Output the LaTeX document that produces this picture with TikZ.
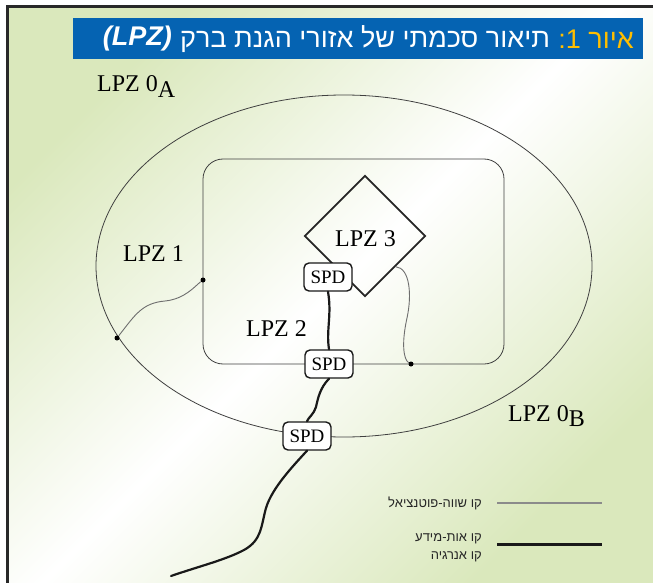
\documentclass[tikz,border=0pt]{standalone}
\usepackage{fontspec}
\setmainfont{Liberation Serif}
\newfontfamily\hebfont[Script=Hebrew]{Liberation Sans}
\usetikzlibrary{shapes.geometric, positioning, calc}
\TeXXeTstate=1
\definecolor{titleblue}{RGB}{5, 99, 178}
\definecolor{titleyellow}{RGB}{255, 190, 0}
\definecolor{bggreen}{RGB}{218, 232, 188}
\definecolor{eqgray}{RGB}{110, 110, 110}
\definecolor{framegray}{RGB}{40, 40, 40}
\newcommand{\zsub}[1]{\raisebox{-0.5ex}{#1}}

\begin{document}
\begin{tikzpicture}[x=1pt, y=-1pt,
    every node/.style={inner sep=0pt},
    zonelbl/.style={font=\fontsize{24}{26}\selectfont, anchor=base west},
    spd/.style={draw=black!90, fill=white, rounded corners=5pt, line width=1.4pt, minimum width=48pt, minimum height=28pt, font=\fontsize{19}{20}\selectfont},
    zone/.style={draw=black!75, line width=0.8pt},
    eqline/.style={draw=eqgray, line width=0.9pt},
    powline/.style={draw=black!90, line width=2.2pt, line cap=round},
    junc/.style={circle, fill=black, minimum size=5pt},
    ttl/.style={font=\hebfont\fontsize{27}{29}\selectfont},
    legend/.style={font=\hebfont\fontsize{13}{18}\selectfont, align=right, text=black!85}
]
\useasboundingbox (0,0) rectangle (653,583);

% Background and frame
\shade[top color=bggreen, bottom color=bggreen, middle color=white, shading angle=45] (7,7) rectangle (653,583);
\draw[framegray, line width=3pt] (7,583) -- (7,7) -- (653,7);

% Title bar
\node[fill=titleblue, minimum width=570pt, minimum height=41pt, anchor=north west] (bar) at (73,18) {};
\node[ttl, text=titleyellow, anchor=east] (fig) at (634,39) {\beginR איור \beginL1\endL:\endR};
\node[ttl, text=white, left=8pt of fig] (caption) {\beginR תיאור סכמתי של אזורי הגנת ברק\endR};
\node[ttl, text=white, left=8pt of caption, font=\hebfont\fontsize{27}{29}\selectfont\bfseries\itshape] (lpzttl) {(LPZ)};

% Zones
\node[zone, ellipse, minimum width=496pt, minimum height=342pt] (lpz0) at (344,266) {};
\node[zone, rounded corners=20pt, minimum width=301pt, minimum height=205pt] (lpz1) at (353.5,261.5) {};
\node[draw=black!85, line width=1.8pt, diamond, minimum width=121pt, minimum height=121pt] (lpz3) at (365,236) {};

% Zone labels
\node[zonelbl] (l0a) at (97,92) {LPZ 0\zsub{A}};
\node[zonelbl] (l1) at (123,261) {LPZ 1};
\node[zonelbl] (l2) at (246,336) {LPZ 2};
\node[zonelbl] (l3) at (335,246) {LPZ 3};
\node[zonelbl] (l0b) at (508,421) {LPZ 0\zsub{B}};

% Equipotential bonding
\node[junc] (j1) at (117,338) {};
\node[junc] (j2) at (203,280) {};
\node[junc] (j3) at (411,364) {};
\draw[eqline] (j1) .. controls (135,315) and (142,303) .. (165,301) .. controls (185,299) and (195,286) .. (j2);
\draw[eqline] (lpz3.south east) .. controls (410,268) and (412,295) .. (407,318) .. controls (401,345) and (404,360) .. (j3);

% SPDs on the line
\node[spd] (s1) at (328,277) {SPD};
\node[spd] (s2) at (329,364) {SPD};
\node[spd] (s3) at (307,436) {SPD};
\coordinate (pend) at (171,576);
\draw[powline] (s1.south) .. controls (332,315) and (326,330) .. (s2.north);
\draw[powline] (s2.south) .. controls (320,388) and (318,398) .. (316,407) .. controls (314,414) and (308,418) .. (s3.north);
\draw[powline] (s3.south) .. controls (293,466) and (272,488) .. (266,508) .. controls (261,526) and (262,540) .. (244,550) .. controls (225,560) and (200,566) .. (pend);

% Legend
\coordinate (eqa) at (497,503);
\coordinate (eqb) at (602,503);
\coordinate (pwa) at (497,544);
\coordinate (pwb) at (602,544);
\draw[draw=eqgray!80, line width=1.4pt] (eqa) -- (eqb);
\draw[draw=black!90, line width=3pt] (pwa) -- (pwb);
\node[legend, left=15pt of eqa] (leq) {\beginR קו שווה-פוטנציאל\endR};
\node[legend, anchor=north east] (lpw) at ($(pwa)+(-15,-11)$) {\beginR קו אות-מידע\endR\\\beginR קו אנרגיה\endR};
\end{tikzpicture}
\end{document}
